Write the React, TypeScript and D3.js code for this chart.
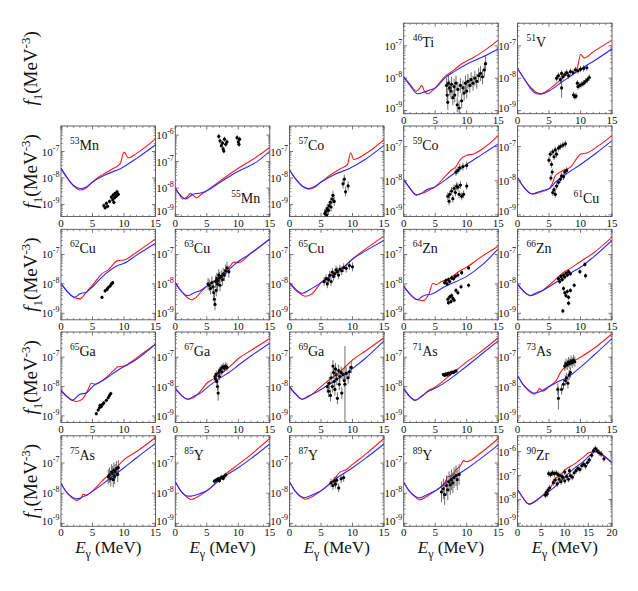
import React from 'react';
import * as d3 from 'd3';

type P = number[];

// ---------- model curves & data (E in MeV, f1 in MeV^-3) ----------
const ti46Red: P[] = [[0,1.1e-8],[1,6.5e-9],[2,4e-9],[2.5,4.8e-9],[2.85,6e-9],[3.3,4e-9],[3.8,3.3e-9],[5,5e-9],[6.5,1.1e-8],[8,1.8e-8],[9,2.6e-8],[10,3.4e-8],[11,4.3e-8],[12.5,6.5e-8],[15,1.5e-7]];
const ti46Blue: P[] = [[0,1.1e-8],[1,6e-9],[2.2,3.3e-9],[3,3.6e-9],[4,4.2e-9],[5,5e-9],[6.5,1e-8],[8,1.6e-8],[10,2.7e-8],[12.5,4.5e-8],[15,8e-8]];
const ti46Data: P[] = [[6.8,6e-9],[6.9,3e-9],[7.0,1.8e-9],[7.1,7e-9],[7.3,5e-9],[7.5,4e-9],[7.6,6.5e-9],[7.8,2.5e-9],[8.0,5.5e-9],[8.1,3e-9],[8.3,7e-9],[8.5,1.5e-9],[8.6,4.5e-9],[8.8,1.2e-9],[9.0,6e-9],[9.2,2e-9],[9.4,5e-9],[9.6,3.5e-9],[9.8,7e-9],[10.0,4e-9],[10.2,8e-9],[10.5,6e-9],[10.7,9e-9],[11.0,7e-9],[11.3,1e-8],[11.6,8e-9],[11.9,1.2e-8],[12.2,1.4e-8],[12.5,1.1e-8],[12.8,1.8e-8],[13.0,2.8e-8]];

const v51Red: P[] = [[0,2e-8],[1,1e-8],[2,5.5e-9],[3,3.6e-9],[3.7,3.3e-9],[5,4.5e-9],[6,6.5e-9],[7,9.5e-9],[8,1.4e-8],[8.5,1.6e-8],[9,1.4e-8],[9.6,2.5e-8],[10,5.5e-8],[10.6,4.2e-8],[12,6.5e-8],[15,1.5e-7]];
const v51Blue: P[] = [[0,2e-8],[1,1e-8],[2,5e-9],[3,3.3e-9],[3.7,3.2e-9],[5,4e-9],[7,7.5e-9],[10,1.9e-8],[12.5,3.8e-8],[15,8e-8]];
const v51Data: P[] = [[6.2,1e-8],[6.5,1.2e-8],[6.8,9e-9],[7.0,1.4e-8],[7.2,1.1e-8],[7.5,1.3e-8],[7.8,1.5e-8],[8.1,1.2e-8],[8.4,1.6e-8],[8.8,1.5e-8],[9.2,1.8e-8],[9.6,1.7e-8],[10.0,1.9e-8],[10.5,2e-8],[11.0,2.1e-8],[7.0,5e-9,2],[8.9,3e-9],[9.1,2.7e-9],[9.3,2.8e-9],[9.6,5.5e-9],[9.9,6e-9],[10.2,6.5e-9],[10.5,7e-9],[10.8,8e-9],[11.1,9e-9],[11.4,1.05e-8],[9.5,7e-9]];

const mn53Red: P[] = [[0,2.3e-8],[1,1e-8],[2,5e-9],[3,3.5e-9],[4,4.2e-9],[5,7e-9],[6,1.1e-8],[7,1.5e-8],[8,2.1e-8],[9.4,3.5e-8],[10,9.5e-8],[10.7,5.8e-8],[12,8.5e-8],[15,3e-7]];
const mn53Blue: P[] = [[0,2.3e-8],[1,1e-8],[2,5.2e-9],[3,4e-9],[4,4.6e-9],[5,7e-9],[7,1.3e-8],[9.5,2.3e-8],[12,5.5e-8],[15,1.8e-7]];
const mn53Data: P[] = [[6.8,9e-10],[7.0,7.5e-10],[7.2,1.1e-9],[7.4,8.5e-10],[7.7,1.3e-9],[8.0,1.9e-9],[8.2,1.5e-9],[8.3,2.3e-9],[8.5,1.8e-9],[8.6,2.6e-9],[8.8,2.1e-9],[8.9,3e-9],[9.1,2.4e-9],[8.4,1.2e-9]];

const mn55Red: P[] = [[0,1.05e-8],[0.6,6e-9],[1.2,3.9e-9],[1.8,4.5e-9],[2.4,6.2e-9],[3.4,4.3e-9],[4,5.5e-9],[5,8e-9],[7,1.8e-8],[8.5,3.2e-8],[10,5.6e-8],[13,1.55e-7],[15,3.5e-7]];
const mn55Blue: P[] = [[0,9.5e-9],[0.8,5.5e-9],[1.6,3.9e-9],[2.2,4.6e-9],[2.9,6e-9],[4,6.5e-9],[5,8e-9],[7,1.6e-8],[10,4.3e-8],[13,1e-7],[15,2.5e-7]];
const mn55Data: P[] = [[6.9,9e-7],[7.1,6e-7],[7.3,4e-7],[7.5,5e-7],[7.6,3e-7],[7.8,7e-7],[8.0,4.5e-7],[8.2,5.5e-7],[7.7,2.5e-7],[9.8,8e-7],[10.0,5.5e-7],[10.2,7e-7],[10.1,4.5e-7]];

const co57Red: P[] = [[0,2e-8],[1,9e-9],[2,5e-9],[3,3.8e-9],[4,4.5e-9],[5,7e-9],[6.5,1.3e-8],[8,2.2e-8],[9.2,3.2e-8],[9.7,9e-8],[10.2,5e-8],[12,8e-8],[15,2.8e-7]];
const co57Blue: P[] = [[0,2e-8],[1,9e-9],[2,5e-9],[3,4e-9],[4,4.8e-9],[5,7e-9],[7,1.3e-8],[9.5,2.3e-8],[12,5e-8],[15,1.7e-7]];
const co57Data: P[] = [[5.6,4.5e-10],[5.8,5.5e-10],[5.9,4e-10],[6.0,7e-10],[6.2,6e-10],[6.3,9e-10],[6.5,1.2e-9],[6.6,8e-10],[6.8,1.6e-9],[6.9,2.2e-9],[7.1,1.3e-9],[8.5,6e-9],[8.7,9e-9],[8.9,3e-9],[9.3,5e-9]];

const co59Red: P[] = [[0,1.1e-8],[1,6e-9],[2,3.9e-9],[3,4.3e-9],[4,5.3e-9],[5,6.7e-9],[6.5,1.3e-8],[7.5,2e-8],[8.3,2.6e-8],[9,4.2e-8],[10,5.6e-8],[11,6e-8],[13,1e-7],[15,2.1e-7]];
const co59Blue: P[] = [[0,1.1e-8],[1,6e-9],[2,3.8e-9],[3,4.5e-9],[3.5,5.3e-9],[5,6.7e-9],[7.5,1.4e-8],[10,3e-8],[12.5,6e-8],[15,1.2e-7]];
const co59Data: P[] = [[7.0,3.5e-9],[7.2,2.5e-9],[7.3,4e-9],[7.6,5e-9],[7.8,3e-9],[8.0,6e-9],[8.2,4.5e-9],[8.4,7e-9],[8.6,6.5e-9],[8.8,4e-9],[9.0,7.5e-9],[9.2,3.5e-9],[9.5,4e-9],[8.3,1.8e-8],[8.6,2e-8],[8.9,2.4e-8],[9.4,2.6e-8],[10.0,7e-9],[10.0,2.8e-8]];

const cu61Red: P[] = [[0,1.25e-8],[1,6.5e-9],[2,4.3e-9],[2.6,4.1e-9],[3.5,4.6e-9],[5,5.8e-9],[5.5,8e-9],[6,1.4e-8],[7,1.9e-8],[8.5,2.6e-8],[9.4,4.5e-8],[10,6e-8],[11,6.5e-8],[13,1.1e-7],[15,2.1e-7]];
const cu61Blue: P[] = [[0,1.25e-8],[1,6.5e-9],[2.3,4.1e-9],[3,4.5e-9],[4,5.2e-9],[5,5.8e-9],[6,9e-9],[8,1.7e-8],[10,3e-8],[12.5,6.5e-8],[15,1.5e-7]];
const cu61Data: P[] = [[5.0,4e-8],[5.2,6e-8],[5.4,3e-8],[5.6,7e-8],[5.8,5e-8],[6.0,8e-8],[6.2,6e-8],[6.5,9e-8],[6.8,1e-7],[7.2,1.1e-7],[7.6,1.2e-7],[5.5,1.8e-8],[5.3,1.2e-8],[5.6,4.5e-9],[5.8,5.5e-9],[6.0,4e-9],[6.2,7e-9],[6.5,9e-9],[6.8,1.1e-8],[7.0,1.4e-8],[7.3,1.3e-8],[7.5,1.8e-8],[7.8,2e-8]];

const cu62Red: P[] = [[0,1.05e-8],[1,5.5e-9],[2,3.5e-9],[3,3.1e-9],[4,5.2e-9],[5,9e-9],[6.5,2.2e-8],[7.5,3e-8],[9,6.2e-8],[10,6.5e-8],[12,1.2e-7],[15,3.4e-7]];
const cu62Blue: P[] = [[0,1.05e-8],[1,5.5e-9],[2.2,3.5e-9],[3,4.6e-9],[4,5.2e-9],[5,8e-9],[6.5,1.7e-8],[9,4.2e-8],[10,5e-8],[12,9.5e-8],[15,2.4e-7]];
const cu62Data: P[] = [[6.5,3.5e-9],[7.0,5.8e-9],[7.3,6.5e-9],[7.5,7.5e-9],[7.8,8.5e-9],[8.0,1e-8],[8.2,1.1e-8]];

const cu63Red: P[] = [[0,1.1e-8],[1,5.5e-9],[2,3.3e-9],[2.6,2.9e-9],[3.5,3.8e-9],[4,5.2e-9],[5.5,1e-8],[7,1.7e-8],[8.5,3.5e-8],[9.3,5.5e-8],[10,5.3e-8],[12,1.1e-7],[15,3.4e-7]];
const cu63Blue: P[] = [[0,1.1e-8],[1,5.5e-9],[2,4e-9],[3,5e-9],[4,6e-9],[5.5,1e-8],[7,1.5e-8],[9.5,4.8e-8],[12,1.1e-7],[15,3.4e-7]];
const cu63Data: P[] = [[5.2,1e-8],[5.4,9e-9],[5.6,7e-9],[5.8,1.1e-8],[6.0,8e-9],[6.1,5e-9],[6.2,3e-9],[6.3,2e-9],[6.4,1.2e-8],[6.5,6e-9],[6.6,1.5e-8],[6.7,1e-8],[6.8,1.3e-8],[7.0,1.6e-8],[7.1,9e-9],[7.3,1.8e-8],[7.5,1.4e-8],[7.6,2.2e-8],[7.8,2e-8],[8.0,2.8e-8],[8.2,3.5e-8],[8.5,2.6e-8],[6.9,2e-8]];

const cu65Red: P[] = [[0,1.1e-8],[1,6e-9],[2,4.2e-9],[2.5,3.8e-9],[3.5,4.5e-9],[5,1.1e-8],[7,2.2e-8],[8.5,3.6e-8],[10,7e-8],[12,1.5e-7],[15,4.2e-7]];
const cu65Blue: P[] = [[0,1.1e-8],[1,6.5e-9],[2,4.8e-9],[3,6e-9],[4,8e-9],[5,1.1e-8],[7,2.1e-8],[8.5,3.5e-8],[10,7e-8],[12,1.3e-7],[15,3e-7]];
const cu65Data: P[] = [[5.5,1.2e-8],[5.8,1.5e-8],[6.0,1e-8],[6.2,1.4e-8],[6.4,2e-8],[6.6,1.2e-8],[6.8,2.5e-8],[7.0,1.8e-8],[7.2,2.2e-8],[7.4,3e-8],[7.6,2.6e-8],[7.8,2e-8],[8.0,3.2e-8],[8.3,2.8e-8],[8.6,3.6e-8],[9.0,3.4e-8],[9.5,4.2e-8],[10.0,3.8e-8]];

const zn64Red: P[] = [[0,8.2e-9],[1,4.5e-9],[2,3e-9],[3.1,2.7e-9],[4,4.5e-9],[4.65,1.05e-8],[5.2,9.5e-9],[6,1.2e-8],[7,1.4e-8],[8.5,2.4e-8],[9.5,3.3e-8],[10,3.7e-8],[12,7.5e-8],[15,1.9e-7]];
const zn64Blue: P[] = [[0,8.2e-9],[1,4.5e-9],[2.2,2.9e-9],[3,3.8e-9],[3.5,4.2e-9],[4.5,4.5e-9],[6,7e-9],[7,9e-9],[10,1.8e-8],[12.5,4.5e-8],[15,1.55e-7]];
const zn64Data: P[] = [[6.5,1.1e-8],[6.7,1.3e-8],[6.9,1e-8],[7.1,1.4e-8],[7.3,1.2e-8],[7.6,1.6e-8],[7.9,1.5e-8],[8.2,1.8e-8],[8.6,2e-8],[9.2,2.4e-8],[10.3,3.5e-8],[7.0,3e-9],[7.1,2.3e-9],[7.3,3.6e-9],[7.5,2.5e-9],[7.6,4e-9],[7.8,3.2e-9],[8.0,2.8e-9],[8.3,6e-9],[8.6,5e-9],[9.1,8e-9],[10.3,9e-9]];

const zn66Red: P[] = [[0,1e-8],[1,5.5e-9],[2,4e-9],[3,4.5e-9],[4,6e-9],[5,9e-9],[6,1.4e-8],[7,2.2e-8],[8.5,3.5e-8],[10,5.8e-8],[12,1.1e-7],[15,3.9e-7]];
const zn66Blue: P[] = [[0,1e-8],[1,5.5e-9],[2,4e-9],[3,5e-9],[4,6e-9],[5,8e-9],[7,1.5e-8],[8.5,2.4e-8],[10,3.7e-8],[12,8e-8],[15,3e-7]];
const zn66Data: P[] = [[6.5,1.5e-8],[6.7,1.2e-8],[6.9,1.8e-8],[7.1,1.4e-8],[7.3,2e-8],[7.5,1.7e-8],[7.7,2.3e-8],[7.9,2e-8],[8.1,2.6e-8],[8.4,2.2e-8],[7.3,7e-9],[7.5,5e-9],[7.7,4e-9],[7.9,5.5e-9],[8.1,3.5e-9],[8.4,6e-9],[8.1,2.2e-9],[7.2,1.2e-9],[9.0,9e-9],[9.9,2.6e-8],[10.7,4.6e-8],[10.8,1.9e-8]];

const ga65Red: P[] = [[0,7.8e-9],[1,4.5e-9],[2,3.3e-9],[2.5,3.1e-9],[3.5,4e-9],[4.3,8e-9],[4.8,1.3e-8],[5.4,1.2e-8],[7,1.9e-8],[8.5,3.8e-8],[9,4.7e-8],[10,5e-8],[12,9.5e-8],[15,2.8e-7]];
const ga65Blue: P[] = [[0,7e-9],[1,4.5e-9],[1.8,3.4e-9],[3,5.5e-9],[4,6e-9],[5,1e-8],[7,1.8e-8],[9,3.6e-8],[12,8.5e-8],[15,2.8e-7]];
const ga65Data: P[] = [[5.6,1.2e-9],[5.9,1.6e-9],[6.1,1.9e-9],[6.2,2.3e-9],[6.4,2.1e-9],[6.6,2.5e-9],[6.8,2.8e-9],[7.2,3.4e-9],[7.5,4.2e-9],[7.7,5e-9],[7.9,5.8e-9]];

const ga67Red: P[] = [[0,8.8e-9],[1,5e-9],[2,3.7e-9],[3,4.3e-9],[4,7e-9],[5,1.3e-8],[6,1.8e-8],[7,2.5e-8],[8.5,4.5e-8],[10,9e-8],[12,1.7e-7],[15,4.3e-7]];
const ga67Blue: P[] = [[0,8.8e-9],[1,5e-9],[2,3.7e-9],[3,4.8e-9],[4,6e-9],[5,9e-9],[7,1.9e-8],[8.5,3e-8],[10,5.3e-8],[12,1.1e-7],[15,3e-7]];
const ga67Data: P[] = [[6.3,2.2e-8],[6.4,1.8e-8],[6.5,2.6e-8],[6.6,1.5e-8],[6.7,1e-8],[6.8,6e-9,1.8],[6.9,3e-8],[7.0,2.2e-8],[7.1,3.6e-8],[7.3,4.2e-8],[7.4,3.2e-8],[7.6,4.8e-8],[7.8,4.2e-8],[8.0,5e-8],[8.2,4.5e-8]];

const ga69Red: P[] = [[0,1e-8],[1,5.5e-9],[2,3.7e-9],[3,4.5e-9],[4,6.5e-9],[5,1e-8],[7,2.2e-8],[8.5,4e-8],[10,8e-8],[12,1.6e-7],[15,4.6e-7]];
const ga69Blue: P[] = [[0,1e-8],[1,5.5e-9],[2,3.7e-9],[3,4.8e-9],[4,6e-9],[5,8e-9],[7,1.5e-8],[8.5,2.4e-8],[10,4.1e-8],[12,9e-8],[15,3.6e-7]];
const ga69Data: P[] = [[6.0,1e-8],[6.2,7e-9],[6.3,1.3e-8],[6.5,5e-9],[6.6,2e-8],[6.8,1e-8],[7.0,3e-8],[7.1,1.5e-8],[7.2,8e-9],[7.4,2.5e-8],[7.5,1.8e-8],[7.6,4e-9],[7.8,3.5e-8],[7.9,1.2e-8],[8.0,2.2e-8],[8.2,3e-8],[8.3,6e-9],[8.5,2.6e-8],[8.7,1.6e-8],[8.8,1.2e-8,20],[9.0,2.8e-8],[9.3,2e-8],[9.5,3.2e-8],[9.8,4.5e-8],[7.3,4e-8],[6.9,5e-8]];

const as71Red: P[] = [[0,8.5e-9],[1,4.5e-9],[1.8,3.4e-9],[3,5e-9],[4,7.5e-9],[5,9.7e-9],[7,2.1e-8],[8.5,3.8e-8],[10,6.9e-8],[12,1.4e-7],[15,4.6e-7]];
const as71Blue: P[] = [[0,8.5e-9],[1,4.5e-9],[1.8,3.4e-9],[3,5e-9],[4,7e-9],[5,8.8e-9],[7,1.6e-8],[8.5,2.8e-8],[10,4.9e-8],[12,1.1e-7],[15,3.6e-7]];
const as71Data: P[] = [[6.3,2.6e-8],[6.5,2.4e-8],[6.7,2.7e-8],[6.9,2.5e-8],[7.1,2.9e-8],[7.3,2.7e-8],[7.5,3e-8],[7.7,3.1e-8],[7.9,3e-8],[8.1,3.3e-8],[8.3,3.4e-8]];

const as73Red: P[] = [[0,2.4e-8],[1,1.1e-8],[2,6.5e-9],[2.6,5.5e-9],[3.1,6.5e-9],[3.5,8.5e-9],[4,7e-9],[5,1e-8],[6.3,1.8e-8],[6.8,3e-8],[8,5.5e-8],[10,1e-7],[12,1.9e-7],[15,6.3e-7]];
const as73Blue: P[] = [[0,2.4e-8],[1,1.1e-8],[2,7e-9],[2.6,6e-9],[4,7.5e-9],[5,1e-8],[6.5,1.5e-8],[8,2.1e-8],[10,4.6e-8],[12,1.1e-7],[15,4.3e-7]];
const as73Data: P[] = [[7.5,5e-8],[7.7,6e-8],[7.9,5.5e-8],[8.1,6.8e-8],[8.3,6e-8],[8.5,7.5e-8],[8.7,6.5e-8],[8.9,8e-8],[9.1,7e-8],[6.4,8e-9,1.6],[6.5,4e-9,2.4],[7.0,8e-9,1.5],[7.3,1.2e-8],[7.6,1.6e-8],[7.8,2e-8],[8.0,1.3e-8],[8.2,2.5e-8],[8.4,3e-8]];

const as75Red: P[] = [[0,2.1e-8],[1,1e-8],[2,6.5e-9],[2.5,5.7e-9],[3.2,7e-9],[3.5,9.3e-9],[4,8.5e-9],[5,1.2e-8],[6.5,2.5e-8],[7.5,4e-8],[8.5,6e-8],[10,1.3e-7],[12,2.4e-7],[15,7e-7]];
const as75Blue: P[] = [[0,2.1e-8],[1,1e-8],[2,7e-9],[2.5,6.5e-9],[4,8.5e-9],[5,1.15e-8],[7.5,2.8e-8],[10,7e-8],[12,1.5e-7],[15,4.5e-7]];
const as75Data: P[] = [[7.5,3.5e-8],[7.7,4e-8],[7.9,3e-8],[8.0,5e-8],[8.2,4.5e-8],[8.4,5.8e-8],[8.5,3.6e-8],[8.6,5.2e-8],[8.8,6.5e-8],[9.0,4.2e-8],[9.1,7e-8],[8.3,2.8e-8]];

const y85Red: P[] = [[0,2.4e-8],[1,1.1e-8],[2,7e-9],[2.5,6.2e-9],[3.5,7.5e-9],[5,1.2e-8],[7.5,3.6e-8],[10,9e-8],[12,1.9e-7],[15,6.5e-7]];
const y85Blue: P[] = [[0,2.4e-8],[1,1.1e-8],[2,8e-9],[2.5,8e-9],[3.5,9e-9],[5,1.2e-8],[7.5,3.3e-8],[10,7e-8],[12,1.4e-7],[15,4.3e-7]];
const y85Data: P[] = [[6.2,2.5e-8],[6.5,2.7e-8],[6.8,3e-8],[7.0,2.6e-8],[7.2,3.2e-8],[7.4,3.4e-8],[7.6,3.1e-8],[7.8,3.7e-8],[8.0,4e-8]];

const y87Red: P[] = [[0,2.4e-8],[1,1.1e-8],[2,7e-9],[2.5,6.3e-9],[3.5,7.5e-9],[5,1.2e-8],[7,2.8e-8],[8,5e-8],[9,6e-8],[10,9e-8],[12,1.9e-7],[15,6.5e-7]];
const y87Blue: P[] = [[0,2.4e-8],[1,1.1e-8],[2,7.5e-9],[2.5,7.2e-9],[3.5,8.5e-9],[5,1.2e-8],[7.5,3.2e-8],[10,7e-8],[12,1.4e-7],[15,4.3e-7]];
const y87Data: P[] = [[6.6,2.2e-8],[6.9,1.8e-8],[7.1,2.5e-8],[7.3,2e-8],[7.5,2.7e-8],[7.8,1.5e-8],[8.2,3e-8],[8.6,3.3e-8]];

const y89Red: P[] = [[0,2.3e-8],[1,1.1e-8],[2,7e-9],[2.5,6e-9],[3.5,7.5e-9],[5,1.2e-8],[6.5,2.2e-8],[7,3.5e-8],[7.7,3.8e-8],[8.3,6e-8],[9,8e-8],[9.5,1.2e-7],[10,1.1e-7],[12,2e-7],[15,6.5e-7]];
const y89Blue: P[] = [[0,2.3e-8],[1,1.1e-8],[2,7.5e-9],[2.5,7e-9],[3.5,8.5e-9],[5,1.2e-8],[7.5,3e-8],[10,6.5e-8],[12,1.3e-7],[15,4e-7]];
const y89Data: P[] = [[6.0,1.1e-8],[6.3,1.4e-8],[6.5,9e-9],[6.8,1.8e-8],[7.0,1.3e-8],[7.2,2.4e-8],[7.4,1.9e-8],[7.6,2.8e-8],[7.8,2.2e-8],[8.0,3.3e-8],[8.3,3.8e-8],[8.5,2.8e-8],[8.8,4.2e-8]];

const zr90Red: P[] = [[0,2.6e-8],[1,1.3e-8],[2,7e-9],[2.5,6.2e-9],[3.5,7.5e-9],[5,1.3e-8],[6.5,2.6e-8],[7.3,4e-8],[7.6,6.5e-8],[9,1e-7],[10,1.7e-7],[12,3e-7],[14,6e-7],[15,8.7e-7],[16.5,1e-6],[17.5,8e-7],[20,3.4e-7]];
const zr90Blue: P[] = [[0,2.6e-8],[1,1.3e-8],[2,7.2e-9],[2.5,6.5e-9],[3.5,8e-9],[5,1.3e-8],[7.5,2.9e-8],[10,8.7e-8],[12,2e-7],[14,4e-7],[15,6.2e-7],[16.5,1e-6],[17.5,8.5e-7],[20,3.4e-7]];
const zr90Data: P[] = [[5.9,1.5e-8],[6.1,2e-8],[6.3,1.7e-8],[6.5,2.5e-8],[6.8,3e-8],[6.6,1.2e-7],[7.0,1.1e-7],[7.4,1.3e-7],[7.8,1.2e-7],[8.2,1.25e-7],[8.6,1.1e-7],[9.0,1e-7],[9.5,9e-8],[7.6,5e-8],[8.0,6.5e-8],[8.4,4.5e-8],[8.8,7e-8],[9.2,5.5e-8],[9.6,8e-8],[10.0,6e-8],[10.4,9e-8],[10.8,7e-8],[11.2,1e-7],[11.6,8.5e-8],[12.0,1.3e-7],[12.4,1.6e-7],[12.8,2e-7],[13.2,1.8e-7],[13.6,2.6e-7],[14.0,3e-7],[14.4,2.5e-7],[14.8,3.5e-7],[15.2,4.5e-7],[15.7,7e-7],[16.1,1.1e-6],[16.5,1.35e-6],[16.9,1.1e-6],[17.3,9e-7],[17.7,8e-7],[18.3,5e-7],[10.0,1.4e-7],[11.0,1.6e-7]];

// y-axis ranges
const domTop: number[] = [8e-10, 5e-7];
const domMn53: number[] = [3.5e-10, 9.2e-7];
const domMn55: number[] = [8.5e-10, 2.2e-6];
const domCo59: number[] = [9e-10, 4e-7];
const domMid: number[] = [6e-10, 7.2e-7];
const domLow: number[] = [8e-10, 8e-7];
const domZr: number[] = [7.5e-10, 4.6e-6];

// ---------- layout ----------
const COLS = [61, 175.3, 289.5, 403.7, 517.5];
const ROWS = [23.2, 126, 229.3, 332, 435.8];
const W = 94.5, H = 90.5;
const FONT = "Liberation Serif, Times New Roman, DejaVu Serif, serif";
const RED = '#ff1a1a';
const BLUE = '#2a2aff';

interface PanelDef { mass: string; sym: string; col: number; row: number; dom: number[]; xMax: number; red: P[]; blue: P[]; data: P[]; err: number; br?: boolean; }

const panels: PanelDef[] = [
  { mass: '46', sym: 'Ti', col: 3, row: 0, dom: domTop, xMax: 15, red: ti46Red, blue: ti46Blue, data: ti46Data, err: 1.7 },
  { mass: '51', sym: 'V', col: 4, row: 0, dom: domTop, xMax: 15, red: v51Red, blue: v51Blue, data: v51Data, err: 1.25 },
  { mass: '53', sym: 'Mn', col: 0, row: 1, dom: domMn53, xMax: 15, red: mn53Red, blue: mn53Blue, data: mn53Data, err: 1.2 },
  { mass: '55', sym: 'Mn', col: 1, row: 1, dom: domMn55, xMax: 15, red: mn55Red, blue: mn55Blue, data: mn55Data, err: 1.25, br: true },
  { mass: '57', sym: 'Co', col: 2, row: 1, dom: domMn53, xMax: 15, red: co57Red, blue: co57Blue, data: co57Data, err: 1.5 },
  { mass: '59', sym: 'Co', col: 3, row: 1, dom: domCo59, xMax: 15, red: co59Red, blue: co59Blue, data: co59Data, err: 1.3 },
  { mass: '61', sym: 'Cu', col: 4, row: 1, dom: domCo59, xMax: 15, red: cu61Red, blue: cu61Blue, data: cu61Data, err: 1.25, br: true },
  { mass: '62', sym: 'Cu', col: 0, row: 2, dom: domMid, xMax: 15, red: cu62Red, blue: cu62Blue, data: cu62Data, err: 1.15 },
  { mass: '63', sym: 'Cu', col: 1, row: 2, dom: domMid, xMax: 15, red: cu63Red, blue: cu63Blue, data: cu63Data, err: 1.6 },
  { mass: '65', sym: 'Cu', col: 2, row: 2, dom: domMid, xMax: 15, red: cu65Red, blue: cu65Blue, data: cu65Data, err: 1.4 },
  { mass: '64', sym: 'Zn', col: 3, row: 2, dom: domMid, xMax: 15, red: zn64Red, blue: zn64Blue, data: zn64Data, err: 1.2 },
  { mass: '66', sym: 'Zn', col: 4, row: 2, dom: domMid, xMax: 15, red: zn66Red, blue: zn66Blue, data: zn66Data, err: 1.2 },
  { mass: '65', sym: 'Ga', col: 0, row: 3, dom: domMid, xMax: 15, red: ga65Red, blue: ga65Blue, data: ga65Data, err: 1.15 },
  { mass: '67', sym: 'Ga', col: 1, row: 3, dom: domMid, xMax: 15, red: ga67Red, blue: ga67Blue, data: ga67Data, err: 1.35 },
  { mass: '69', sym: 'Ga', col: 2, row: 3, dom: domMid, xMax: 15, red: ga69Red, blue: ga69Blue, data: ga69Data, err: 1.6 },
  { mass: '71', sym: 'As', col: 3, row: 3, dom: domMid, xMax: 15, red: as71Red, blue: as71Blue, data: as71Data, err: 1.1 },
  { mass: '73', sym: 'As', col: 4, row: 3, dom: domMid, xMax: 15, red: as73Red, blue: as73Blue, data: as73Data, err: 1.5 },
  { mass: '75', sym: 'As', col: 0, row: 4, dom: domLow, xMax: 15, red: as75Red, blue: as75Blue, data: as75Data, err: 1.8 },
  { mass: '85', sym: 'Y', col: 1, row: 4, dom: domLow, xMax: 15, red: y85Red, blue: y85Blue, data: y85Data, err: 1.2 },
  { mass: '87', sym: 'Y', col: 2, row: 4, dom: domLow, xMax: 15, red: y87Red, blue: y87Blue, data: y87Data, err: 1.4 },
  { mass: '89', sym: 'Y', col: 3, row: 4, dom: domLow, xMax: 15, red: y89Red, blue: y89Blue, data: y89Data, err: 2.2 },
  { mass: '90', sym: 'Zr', col: 4, row: 4, dom: domZr, xMax: 20, red: zr90Red, blue: zr90Blue, data: zr90Data, err: 1.35 },
];

function Panel({ p, idx }: { p: PanelDef; idx: number }) {
  const x0 = COLS[p.col], y0 = ROWS[p.row];
  const x = d3.scaleLinear().domain([0, p.xMax]).range([x0, x0 + W]);
  const y = d3.scaleLog().domain([p.dom[0], p.dom[1]]).range([y0 + H, y0]);
  const line = d3.line<P>().x(d => x(d[0])).y(d => y(d[1])).curve(d3.curveMonotoneX);
  const xMajor = d3.range(0, p.xMax + 0.01, 5);
  const xMinor = d3.range(0, p.xMax + 0.01, 1).filter(v => v % 5 !== 0);
  const lo = Math.floor(Math.log10(p.dom[0])), hi = Math.ceil(Math.log10(p.dom[1]));
  const yMajor: number[] = [], yMinor: number[] = [];
  for (let k = lo; k <= hi; k++) {
    for (let m = 1; m <= 9; m++) {
      const v = m * Math.pow(10, k);
      if (v < p.dom[0] * 0.999 || v > p.dom[1] * 1.001) continue;
      if (m === 1) yMajor.push(v); else yMinor.push(v);
    }
  }
  const clip = `clip${idx}`;
  const yb = y0 + H, xr = x0 + W;
  const tc = '#555';
  return (
    <g>
      <defs>
        <clipPath id={clip}><rect x={x0} y={y0} width={W} height={H} /></clipPath>
      </defs>
      <rect x={x0} y={y0} width={W} height={H} fill="white" stroke={tc} strokeWidth={0.9} />
      {xMajor.map(v => (
        <g key={'xM' + v} stroke={tc} strokeWidth={0.8}>
          <line x1={x(v)} x2={x(v)} y1={yb} y2={yb - 3.5} />
          <line x1={x(v)} x2={x(v)} y1={y0} y2={y0 + 3.5} />
        </g>
      ))}
      {xMinor.map(v => (
        <g key={'xm' + v} stroke={tc} strokeWidth={0.7}>
          <line x1={x(v)} x2={x(v)} y1={yb} y2={yb - 1.8} />
          <line x1={x(v)} x2={x(v)} y1={y0} y2={y0 + 1.8} />
        </g>
      ))}
      {yMajor.map(v => (
        <g key={'yM' + v} stroke={tc} strokeWidth={0.8}>
          <line x1={x0} x2={x0 + 3.5} y1={y(v)} y2={y(v)} />
          <line x1={xr} x2={xr - 3.5} y1={y(v)} y2={y(v)} />
        </g>
      ))}
      {yMinor.map(v => (
        <g key={'ym' + v} stroke={tc} strokeWidth={0.7}>
          <line x1={x0} x2={x0 + 1.8} y1={y(v)} y2={y(v)} />
          <line x1={xr} x2={xr - 1.8} y1={y(v)} y2={y(v)} />
        </g>
      ))}
      {xMajor.map(v => (
        <text key={'xl' + v} x={x(v)} y={yb + 10} textAnchor="middle" fontSize={11} fontFamily={FONT} fill="#111">{v}</text>
      ))}
      {yMajor.map(v => (
        <text key={'yl' + v} x={x0 - 1.5} y={Math.min(y(v) + 4, yb - 1.5)} textAnchor="end" fontSize={11} fontFamily={FONT} fill="#111">
          10<tspan dy={-5} fontSize={8}>{String(Math.round(Math.log10(v)))}</tspan>
        </text>
      ))}
      <g clipPath={`url(#${clip})`}>
        <path d={line(p.red) || ''} fill="none" stroke={RED} strokeWidth={1.1} />
        <path d={line(p.blue) || ''} fill="none" stroke={BLUE} strokeWidth={1.1} />
        {p.data.map((d, i) => {
          const e = d[2] ?? p.err;
          return (
            <g key={'d' + i}>
              <line x1={x(d[0])} x2={x(d[0])} y1={y(d[1] / e)} y2={y(d[1] * e)} stroke="#333" strokeWidth={0.7} />
              <line x1={x(d[0] - 0.12)} x2={x(d[0] + 0.12)} y1={y(d[1])} y2={y(d[1])} stroke="#111" strokeWidth={0.8} />
              <circle cx={x(d[0])} cy={y(d[1])} r={1.6} fill="#000" />
            </g>
          );
        })}
      </g>
      <text x={p.br ? x0 + 56 : x0 + 9} y={p.br ? y0 + 77 : y0 + 24} fontSize={14} fontFamily={FONT} fill="#111">
        <tspan fontSize={9.5} dy={-6}>{p.mass}</tspan>
        <tspan dy={6}>{p.sym}</tspan>
      </text>
    </g>
  );
}

export default function App() {
  return (
    <svg width={638} height={591} viewBox="0 0 638 591" style={{ position: 'absolute', left: 0, top: 0, background: 'white' }}>
      <rect x={0} y={0} width={638} height={591} fill="white" />
      {panels.map((p, i) => <Panel key={i} p={p} idx={i} />)}
      {ROWS.map((r, j) => (
        <text key={'yl' + j} transform={`translate(37,${r + H / 2}) rotate(-90)`} textAnchor="middle" fontSize={19} fontFamily={FONT} fill="#111">
          <tspan fontStyle="italic">f</tspan>
          <tspan fontSize={13} dy={5}>1</tspan>
          <tspan dy={-5}>(MeV</tspan>
          <tspan fontSize={13} dy={-7}>-3</tspan>
          <tspan dy={7}>)</tspan>
        </text>
      ))}
      {COLS.map((c, i) => (
        <text key={'xl' + i} x={c + W / 2} y={553} textAnchor="middle" fontSize={17} fontFamily={FONT} fill="#111">
          <tspan fontStyle="italic">E</tspan>
          <tspan fontSize={12} dy={5}>γ</tspan>
          <tspan dy={-5}> (MeV)</tspan>
        </text>
      ))}
    </svg>
  );
}
